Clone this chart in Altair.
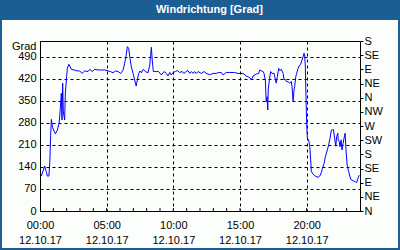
import json
import altair as alt
import pandas as pd

# ---- data ----
minutes = [6, 21, 28, 33, 40, 44, 48, 51, 57, 69,
           78, 86, 91, 96, 99, 102, 105, 111, 114, 120,
           123, 130, 141, 153, 168, 179, 189, 201, 216, 224,
           235, 246, 261, 275, 291, 306, 316, 329, 339, 351,
           363, 374, 381, 388, 393, 399, 405, 411, 419, 426,
           433, 438, 444, 450, 456, 465, 474, 486, 494, 498,
           501, 505, 510, 524, 534, 546, 558, 569, 576, 584,
           591, 599, 609, 618, 629, 639, 648, 658, 666, 674,
           681, 689, 696, 703, 711, 726, 738, 748, 764, 779,
           793, 804, 816, 824, 838, 854, 876, 891, 903, 914,
           928, 944, 951, 959, 973, 984, 989, 996, 1004, 1008,
           1014, 1018, 1022, 1025, 1027, 1032, 1038, 1044, 1053, 1059,
           1063, 1068, 1074, 1079, 1086, 1094, 1098, 1104, 1109, 1116,
           1124, 1131, 1134, 1139, 1143, 1146, 1151, 1155, 1161, 1169,
           1173, 1179, 1184, 1188, 1191, 1194, 1197, 1200, 1203, 1209,
           1214, 1218, 1221, 1229, 1239, 1251, 1259, 1266, 1271, 1278,
           1284, 1293, 1299, 1305, 1311, 1316, 1320, 1326, 1331, 1335,
           1340, 1342, 1347, 1350, 1355, 1359, 1364, 1368, 1373, 1377,
           1382, 1389, 1398, 1409, 1419, 1425, 1431, 1436]

degrees = [111, 143, 125, 111, 111, 153, 241, 291, 264, 245,
           257, 279, 321, 374, 289, 406, 315, 289, 374, 427,
           453, 466, 450, 448, 445, 445, 437, 445, 443, 450,
           443, 450, 448, 448, 448, 445, 443, 439, 445, 443,
           437, 448, 469, 495, 522, 517, 485, 458, 437, 416,
           397, 416, 437, 445, 439, 450, 443, 439, 464, 495,
           520, 480, 443, 443, 443, 432, 443, 437, 429, 440,
           432, 440, 443, 446, 440, 443, 437, 443, 446, 437,
           443, 437, 443, 437, 443, 437, 443, 437, 433, 437,
           437, 440, 440, 432, 440, 440, 440, 437, 437, 437,
           429, 424, 416, 429, 435, 437, 448, 445, 443, 437,
           416, 347, 363, 321, 384, 416, 443, 437, 437, 418,
           406, 427, 453, 446, 450, 437, 418, 418, 411, 411,
           406, 411, 395, 349, 384, 395, 427, 437, 453, 464,
           466, 480, 490, 501, 496, 458, 363, 279, 231, 226,
           204, 162, 125, 117, 111, 107, 111, 122, 136, 150,
           172, 194, 210, 231, 257, 259, 259, 231, 206, 236,
           247, 226, 220, 204, 226, 194, 215, 231, 247, 194,
           146, 125, 101, 96, 93, 90, 104, 114]

tick_hours = [0, 5, 10, 15, 20]
tick_times = ["00:00", "05:00", "10:00", "15:00", "20:00"]
date_label = "12.10.17"
minor_hours = list(range(1, 24))
left_ticks = [0, 70, 140, 210, 280, 350, 420, 490]
compass_deg = [0, 45, 90, 135, 180, 225, 270, 315, 360, 405, 450, 495, 540]
compass_lab = ["N", "NE", "E", "SE", "S", "SW", "W", "NW", "N", "NE", "E", "SE", "S"]
title_text = "Windrichtung [Grad]"
unit_text = "Grad"

df = pd.DataFrame({"hour": [m / 60 for m in minutes], "deg": degrees})
compass_df = pd.DataFrame({"deg": compass_deg})
minor_df = pd.DataFrame({"hour": minor_hours})
one = alt.Data(values=[{}])

FONT = "Liberation Sans"
BLUE = "#1c5e94"

xscale = alt.Scale(domain=[0, 24], nice=False, zero=False)
yscale = alt.Scale(domain=[0, 540], nice=False, zero=False)

x_label_expr = (f"[{json.dumps(tick_times)}[indexof({json.dumps(tick_hours)}, datum.value)], "
                f"'{date_label}']")
compass_expr = f"{json.dumps(compass_lab)}[indexof({json.dumps(compass_deg)}, datum.value)]"

line = alt.Chart(df).mark_line(color="#0000ff", strokeWidth=1, clip=True).encode(
    x=alt.X("hour:Q", scale=xscale,
            axis=alt.Axis(values=tick_hours, title=None, labelExpr=x_label_expr,
                          ticks=False, labelPadding=8, labelLineHeight=15,
                          labelBaseline="top", grid=True, labelFlush=False,
                          labelOverlap=False)),
    y=alt.Y("deg:Q", scale=yscale,
            axis=alt.Axis(values=left_ticks, ticks=False, labelPadding=4, grid=True,
                          title=unit_text, titleAngle=0, titleAlign="right",
                          titleBaseline="middle", titleX=-4, titleY=5,
                          titleFont=FONT, titleFontSize=11, titleFontWeight="normal",
                          titleColor="black")),
)

right_axis = alt.Chart(compass_df).mark_rule(opacity=0).encode(
    y=alt.Y("deg:Q", scale=yscale,
            axis=alt.Axis(orient="right", values=compass_deg, labelExpr=compass_expr,
                          title=None, grid=False, ticks=True, tickSize=3,
                          labelPadding=1, labelOverlap=False, labelFlush=False)),
)

minor = alt.Chart(minor_df).mark_rule(color="black", strokeWidth=1).encode(
    x=alt.X("hour:Q", scale=xscale, axis=None),
    y=alt.value(170),
    y2=alt.value(167),
)

band = alt.Chart(one).mark_rect(color=BLUE).encode(
    x=alt.value(-40), x2=alt.value(360), y=alt.value(-41), y2=alt.value(-21)
)
frame = alt.Chart(one).mark_rect(fill=None, fillOpacity=0, stroke=BLUE, strokeWidth=2).encode(
    x=alt.value(-39), x2=alt.value(359), y=alt.value(-40), y2=alt.value(208)
)
title = alt.Chart(one).mark_text(
    font=FONT, fontSize=11, fontWeight="bold", color="white",
    align="center", baseline="middle"
).encode(x=alt.value(169.5), y=alt.value(-31), text=alt.value(title_text))

chart = alt.layer(line, right_axis, minor, band, frame, title).resolve_axis(
    y="independent", x="independent"
).properties(
    width=320, height=170,
    autosize=alt.AutoSizeParams(type="none"),
    padding={"left": 40, "top": 41, "right": 40, "bottom": 39},
    background="#fcfefc",
).configure_view(
    stroke="black", strokeWidth=1
).configure_axis(
    labelFont=FONT, labelFontSize=11, labelColor="black",
    domainColor="black", domainWidth=1, tickColor="black",
    gridColor="black", gridDash=[3, 3], gridWidth=1, gridOpacity=1,
)

chart.save("out.html", embed_options={"renderer": "svg", "actions": False})
